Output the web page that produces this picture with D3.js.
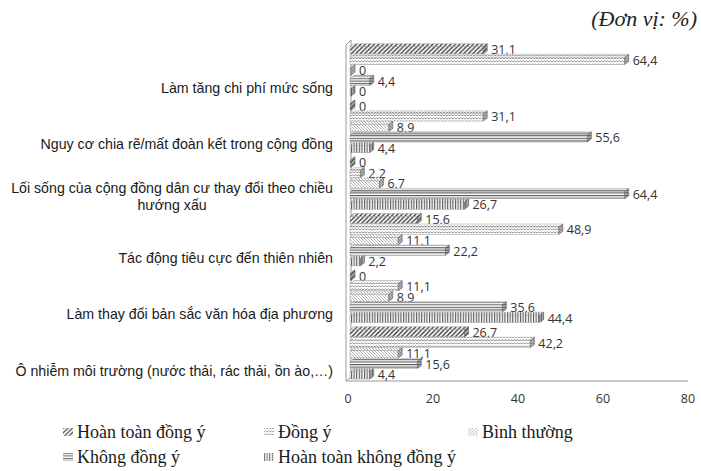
<!DOCTYPE html>
<html>
<head>
<meta charset="utf-8">
<script src="https://cdn.jsdelivr.net/npm/d3@7"></script>
<style>
  body { margin: 0; background: #fff; }
  svg { display: block; }
</style>
</head>
<body>
<svg id="chart" width="701" height="471"></svg>
<script>
// categories, top to bottom
const categories = [
  "Làm tăng chi phí mức sống",
  "Nguy cơ chia rẽ/mất đoàn kết trong cộng đồng",
  "Lối sống của cộng đồng dân cư thay đổi theo chiều hướng xấu",
  "Tác động tiêu cực đến thiên nhiên",
  "Làm thay đổi bản sắc văn hóa địa phương",
  "Ô nhiễm môi trường (nước thải, rác thải, ồn ào,…)"
];
const series = ["Hoàn toàn đồng ý", "Đồng ý", "Bình thường", "Không đồng ý", "Hoàn toàn không đồng ý"];

// values per series (%), in category order
const hoanToanDongY = [31.1, 0, 0, 15.6, 0, 26.7];
const dongY = [64.4, 31.1, 2.2, 48.9, 11.1, 42.2];
const binhThuong = [0, 8.9, 6.7, 11.1, 8.9, 11.1];
const khongDongY = [4.4, 55.6, 64.4, 22.2, 35.6, 15.6];
const hoanToanKhongDongY = [0, 4.4, 26.7, 2.2, 44.4, 4.4];
const xTicks = [0, 20, 40, 60, 80];

const seriesValues = [hoanToanDongY, dongY, binhThuong, khongDongY, hoanToanKhongDongY];
const fmt = v => String(v).replace(".", ",");

const svg = d3.select("#chart");
const defs = svg.append("defs");

// 1. Patterns (black & white fills of the original)
function pattern(id, w, h, draw) {
  const p = defs.append("pattern")
    .attr("id", id)
    .attr("patternUnits", "userSpaceOnUse")
    .attr("width", w).attr("height", h);
  p.append("rect").attr("width", w).attr("height", h).attr("fill", "#fff");
  draw(p);
}
pattern("p0", 4.5, 4.5, p => {
  p.append("path").attr("d", "M-1,5.5 L5.5,-1 M-1,1 L1,-1 M3.5,5.5 L5.5,3.5")
    .attr("stroke", "#333").attr("stroke-width", 1.3);
});
pattern("p1", 6, 3, p => {
  p.append("path").attr("d", "M0,2 L1.5,0.8 L3,2 L4.5,0.8 L6,2")
    .attr("stroke", "#8a8a8a").attr("stroke-width", 0.9).attr("fill", "none");
});
pattern("p2", 3, 3, p => {
  p.append("path").attr("d", "M-1,-1 L4,4 M-1,2 L1,4 M2,-1 L4,1")
    .attr("stroke", "#a0a0a0").attr("stroke-width", 0.8);
});
pattern("p3", 4, 2.6, p => {
  p.append("rect").attr("y", 0).attr("width", 4).attr("height", 1.1).attr("fill", "#555");
});
pattern("p4", 2.6, 4, p => {
  p.append("rect").attr("x", 0).attr("width", 1.1).attr("height", 4).attr("fill", "#555");
});
const fills = ["url(#p0)", "url(#p1)", "url(#p2)", "url(#p3)", "url(#p4)"];

// 2. Scales
const x = d3.scaleLinear().domain([0, 80]).range([348, 688]);

const g = d3.scaleBand()
  .domain(categories)
  .range([42, 381])
  .paddingInner(0.07)
  .paddingOuter(0.03);

const s = d3.scaleBand()
  .domain(series)
  .range([0, g.bandwidth()]);

const dx = 4, dy = 3; // 3D depth
const y0 = 381;

// 3. Wall and floor
svg.append("path")
  .attr("d", `M346,${y0} L346,45 L351,40 L351,${y0 - 4} Z`)
  .attr("fill", "#fff").attr("stroke", "#999").attr("stroke-width", 1);
svg.append("line")
  .attr("x1", 346).attr("x2", x(80)).attr("y1", y0).attr("y2", y0)
  .attr("stroke", "#999").attr("stroke-width", 1);

// 4. Bars
const data = [];
categories.forEach((c, i) => {
  series.forEach((sr, j) => {
    data.push({ cat: c, ser: sr, j, value: seriesValues[j][i] });
  });
});

const bars = svg.append("g").selectAll("g")
  .data(data)
  .join("g");

bars.each(function(d) {
  const el = d3.select(this);
  const top = g(d.cat) + s(d.ser);
  const fy = top + dy;
  const fh = s.bandwidth() - dy - 0.3;
  const x0 = x(0) + 2;
  const x1 = x(d.value) + 3;
  const w = x1 - x0;
  const endFace = `M${x1},${fy} L${x1 + dx},${fy - dy} L${x1 + dx},${fy - dy + fh} L${x1},${fy + fh} Z`;
  if (w > 0.5) {
    // top face
    el.append("path")
      .attr("d", `M${x0},${fy} L${x0 + dx},${fy - dy} L${x1 + dx},${fy - dy} L${x1},${fy} Z`)
      .attr("fill", fills[d.j]).attr("stroke", "#aaa").attr("stroke-width", 0.5);
    // front face
    el.append("rect")
      .attr("x", x0).attr("y", fy)
      .attr("width", w).attr("height", fh)
      .attr("fill", fills[d.j]).attr("stroke", "#999").attr("stroke-width", 0.5);
  }
  // end face
  el.append("path").attr("d", endFace)
    .attr("fill", fills[d.j]).attr("stroke", "#666").attr("stroke-width", 0.6);
  el.append("path").attr("d", endFace)
    .attr("fill", "#555").attr("opacity", 0.45);
  // value label
  el.append("text")
    .attr("x", x1 + dx + 4)
    .attr("y", fy + fh / 2 - 0.5)
    .attr("dy", "0.35em")
    .style("font-family", "'Open Sans', sans-serif")
    .style("font-size", "12.5px")
    .style("fill", "#333")
    .text(fmt(d.value));
});

// 5. Category labels
const catX = 333;
svg.append("g").selectAll("text")
  .data(categories)
  .join("text")
  .attr("text-anchor", "end")
  .attr("x", catX)
  .attr("y", d => g(d) + g.bandwidth() * 0.84)
  .style("font-family", "'Liberation Sans', Arial, sans-serif")
  .style("font-size", "14.2px")
  .style("fill", "#1a1a1a")
  .each(function(d) {
    const t = d3.select(this);
    if (d.startsWith("Lối sống")) {
      t.attr("y", g(d) + g.bandwidth() * 0.84 - 8);
      const first = t.append("tspan").attr("x", catX).attr("dy", "0")
        .text("Lối sống của cộng đồng dân cư thay đổi theo chiều");
      const w = first.node().getComputedTextLength();
      t.append("tspan").attr("x", catX - w / 2).attr("dy", "16.5")
        .attr("text-anchor", "middle")
        .text("hướng xấu");
    } else {
      t.attr("dy", "0.35em").text(d);
    }
  });

// 6. X axis tick labels
svg.append("g").selectAll("text")
  .data(xTicks)
  .join("text")
  .attr("x", d => x(d))
  .attr("y", 399)
  .attr("dy", "0.35em")
  .attr("text-anchor", "middle")
  .style("font-family", "'Open Sans', sans-serif")
  .style("font-size", "12.5px")
  .style("fill", "#333")
  .text(d => d);

// 7. Legend
const legendPos = [[63, 433], [264, 433], [468, 433], [63, 458], [264, 458]];
const legend = svg.append("g").selectAll("g")
  .data(series)
  .join("g")
  .attr("transform", (d, i) => `translate(${legendPos[i][0]},${legendPos[i][1]})`);
legend.append("rect")
  .attr("x", 0).attr("y", -5)
  .attr("width", 10).attr("height", 8)
  .attr("fill", (d, i) => fills[i])
  .attr("opacity", 0.85);
legend.append("text")
  .attr("x", 14)
  .attr("y", 5)
  .style("font-family", "'Liberation Serif', 'Times New Roman', serif")
  .style("font-size", "18px")
  .style("fill", "#1a1a1a")
  .text(d => d);

// 8. Unit note
svg.append("text")
  .attr("x", 697)
  .attr("y", 26)
  .attr("text-anchor", "end")
  .style("font-family", "'Liberation Serif', 'Times New Roman', serif")
  .style("font-style", "italic")
  .style("font-size", "22px")
  .style("fill", "#222")
  .text("(Đơn vị: %)");
</script>
</body>
</html>
